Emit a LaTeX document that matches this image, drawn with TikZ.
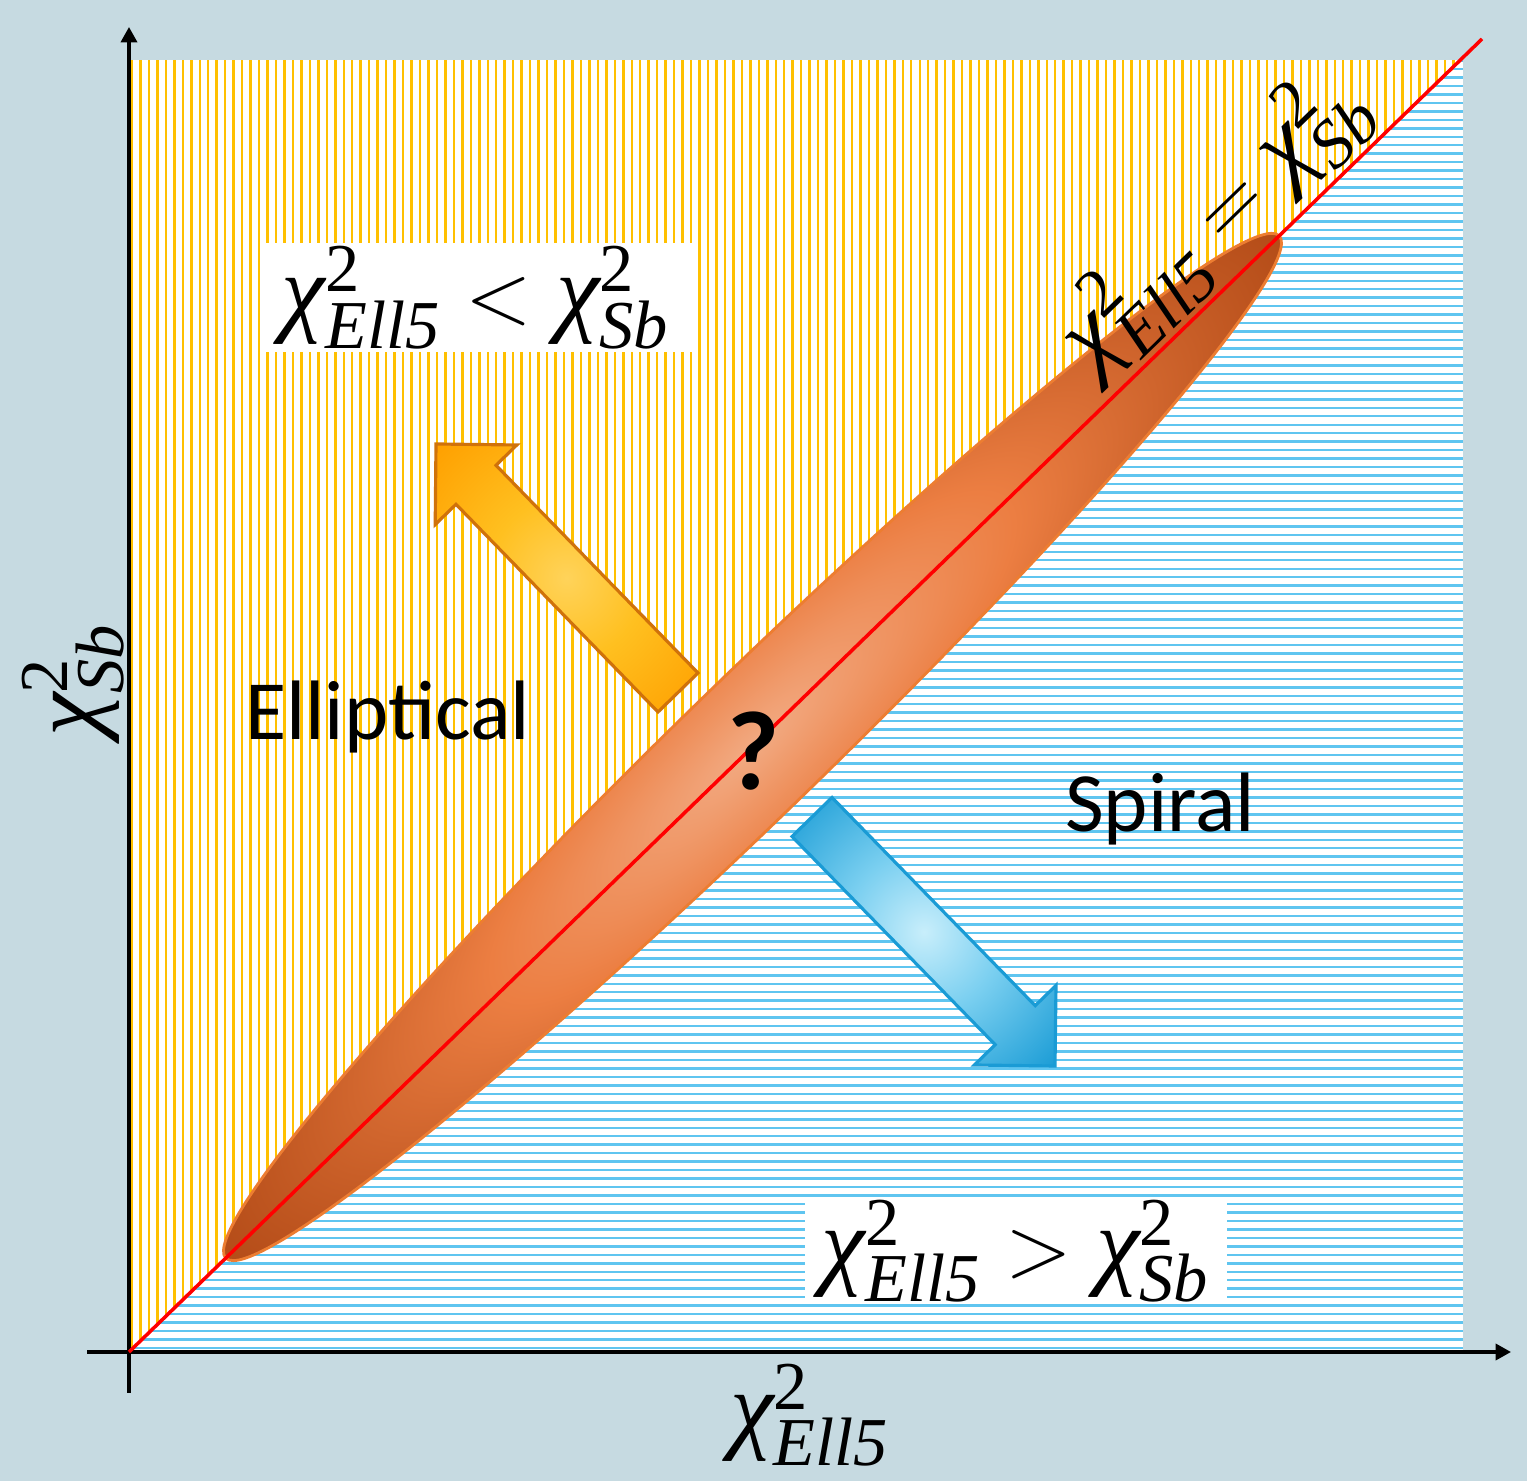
\documentclass[tikz,border=0pt]{standalone}
\usepackage{fontspec}
\setmainfont{Liberation Serif}
\newfontfamily\calib{Carlito}
\usepackage{tikz}
\usetikzlibrary{arrows.meta,positioning}

\definecolor{bgblue}{RGB}{198,218,225}
\definecolor{hatchgold}{RGB}{255,192,0}
\definecolor{hatchblue}{RGB}{95,197,240}
\definecolor{ellcore}{RGB}{242,170,130}
\definecolor{ellmid}{RGB}{236,126,66}
\definecolor{ellrim}{RGB}{180,76,24}
\definecolor{elledge}{RGB}{237,125,49}
\definecolor{goldcore}{RGB}{255,211,90}
\definecolor{goldmid}{RGB}{255,192,32}
\definecolor{goldrim}{RGB}{255,160,0}
\definecolor{goldedge}{RGB}{208,114,10}
\definecolor{skycore}{RGB}{200,238,251}
\definecolor{skymid}{RGB}{122,207,240}
\definecolor{skyrim}{RGB}{28,157,214}
\definecolor{skyedge}{RGB}{26,155,213}

\pgfdeclareradialshading{ellglow}{\pgfpoint{0bp}{0bp}}{color(0bp)=(ellcore); color(12bp)=(ellmid); color(25bp)=(ellrim); color(50bp)=(ellrim)}
\pgfdeclareradialshading{goldglow}{\pgfpoint{0bp}{0bp}}{color(0bp)=(goldcore); color(15bp)=(goldmid); color(35bp)=(goldrim); color(50bp)=(goldrim)}
\pgfdeclareradialshading{skyglow}{\pgfpoint{0bp}{0bp}}{color(0bp)=(skycore); color(15bp)=(skymid); color(35bp)=(skyrim); color(50bp)=(skyrim)}

% chi-square with a subscript, set in the serif italic
\newcommand{\chisq}[1]{\hbox{\itshape χ}^{\hbox{\upshape\fontsize{19.5}{22}\selectfont 2}}_{\hbox{\itshape\fontsize{19.5}{22}\selectfont #1}}}

\tikzset{
  axis/.style={line width=0.95pt, -{Triangle[length=4.4pt, width=4.6pt]}},
  goldhatch/.style={hatchgold, line width=0.7pt},
  bluehatch/.style={hatchblue, line width=0.7pt},
  ineqbox/.style={fill=white, inner sep=0pt, font=\fontsize{28}{32}\selectfont},
  region/.style={font=\calib\fontsize{24}{29}\selectfont},
  mathlab/.style={font=\fontsize{28}{32}\selectfont},
  dirarrow/.style={line width=0.9pt, line join=miter},
}

\begin{document}
\begin{tikzpicture}
% canvas and margins
\fill[bgblue] (-1.29,-1.29) rectangle (13.98,13.52);
\useasboundingbox (-1.29,-1.29) rectangle (13.98,13.52);
\coordinate (o) at (0,0);
\coordinate (tr) at (13.34,12.92);
\fill[white] (o) rectangle (tr);
% vertical hatching above the diagonal
\begin{scope}
  \clip (o) -- (0,12.92) -- (tr) -- cycle;
  \foreach \x in {0.03,0.1147,...,13.34} \draw[goldhatch] (\x,0) -- (\x,12.92);
\end{scope}
% horizontal hatching below the diagonal
\begin{scope}
  \clip (o) -- (13.34,0) -- (tr) -- cycle;
  \foreach \y in {0.04,0.1247,...,12.92} \draw[bluehatch] (0,\y) -- (13.34,\y);
\end{scope}
% axes
\coordinate (xs) at (-0.42,0);
\coordinate (xe) at (13.82,0);
\coordinate (ys) at (0,-0.41);
\coordinate (ye) at (0,13.25);
\draw[axis] (xs) -- (xe);
\draw[axis] (ys) -- (ye);
% uncertain band
\begin{scope}[transform canvas={shift={(6.235,6.05)}, rotate=44.14}]
  \begin{scope}
    \clip (0,0) ellipse (7.34 and 0.70);
    \shade[shading=ellglow] (-7.34,-1.95) rectangle (7.34,1.95);
  \end{scope}
  \draw[elledge, line width=0.8pt] (0,0) ellipse (7.34 and 0.70);
\end{scope}
% equality line
\coordinate (re) at (13.53,13.13);
\draw[red, line width=1pt] (o) -- (re);
% direction arrows
\shade[shading=goldglow, draw=goldedge, dirarrow] (3.07,9.08) -- (3.878,9.07) -- (3.67,8.867) -- (5.69,6.79) -- (5.29,6.40) -- (3.27,8.477) -- (3.062,8.274) -- cycle;
\shade[shading=skyglow, draw=skyedge, dirarrow] (9.26,2.86) -- (9.27,3.666) -- (9.062,3.463) -- (7.03,5.545) -- (6.63,5.155) -- (8.662,3.073) -- (8.454,2.87) -- cycle;
% labels
\node[ineqbox, minimum width=4.32cm, minimum height=1.09cm] (lt) at (3.47,10.545) {$\chisq{Ell5} < \chisq{Sb}$};
\node[ineqbox, minimum width=4.22cm, minimum height=1.02cm] (gt) at (8.87,1.01) {$\chisq{Ell5} > \chisq{Sb}$};
\node[region, anchor=base] (ell) at (2.585,6.12) {Elliptical};
\node[region, anchor=base] (spi) at (10.31,5.20) {Spiral};
\node[font=\calib\fontsize{32}{38}\selectfont\bfseries, anchor=base] (q) at (6.245,5.62) {?};
\node[mathlab] (xl) at (6.81,-0.63) {$\chisq{Ell5}$};
\node[mathlab, rotate=90] (yl) at (-0.56,6.72) {$\chisq{Sb}$};
\node[mathlab, rotate=44.14] (dl) at (10.84,11.31) {$\chisq{Ell5} = \chisq{Sb}$};
\end{tikzpicture}
\end{document}
